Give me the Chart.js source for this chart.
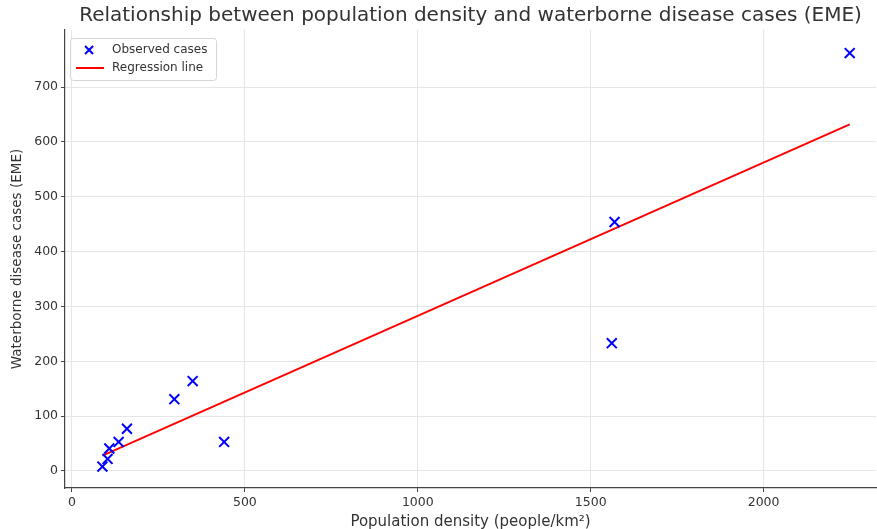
<!DOCTYPE html>
<html>
<head>
<meta charset="utf-8">
<script src="https://cdn.jsdelivr.net/npm/chart.js@4.4.1/dist/chart.umd.min.js"></script>
<style>
  html, body { margin: 0; padding: 0; background: #fff; overflow: hidden; }
  #wrap { width: 877px; height: 529px; }
  canvas { display: block; }
</style>
</head>
<body>
<div id="wrap"><canvas id="chart" width="877" height="529"></canvas></div>
<script>
// observed points
const densityValues = [88, 103, 108, 135, 159, 296, 349, 440, 1561, 1569, 2249];
const caseValues = [8, 22, 41, 53, 77, 131, 164, 53, 233, 454, 762];

// regression line end points
const lineX = [88, 2249];
const lineY = [28, 632];

const xTickValues = [0, 500, 1000, 1500, 2000];
const yTickValues = [0, 100, 200, 300, 400, 500, 600, 700];

const font = "'DejaVu Sans', sans-serif";
const textColor = '#333';

const observed = densityValues.map((x, i) => ({ x: x, y: caseValues[i] }));
const regression = lineX.map((x, i) => ({ x: x, y: lineY[i] }));

// legend drawn inside the plot, top-left
const innerLegend = {
    id: 'innerLegend',
    afterDraw(chart) {
        const ctx = chart.ctx;
        const area = chart.chartArea;
        const x0 = area.left + 5;
        const y0 = area.top + 8;
        const w = 146, h = 42;
        ctx.save();
        ctx.fillStyle = 'rgba(255,255,255,0.85)';
        ctx.strokeStyle = '#d6d6d6';
        ctx.lineWidth = 1;
        ctx.beginPath();
        ctx.roundRect(x0 + 0.5, y0 + 0.5, w, h, 3);
        ctx.fill();
        ctx.stroke();

        // cross marker
        const mx = x0 + 19, my = y0 + 12;
        ctx.strokeStyle = '#0000ff';
        ctx.lineWidth = 2;
        ctx.beginPath();
        ctx.moveTo(mx - 4, my - 4); ctx.lineTo(mx + 4, my + 4);
        ctx.moveTo(mx + 4, my - 4); ctx.lineTo(mx - 4, my + 4);
        ctx.stroke();

        // line sample
        ctx.strokeStyle = '#ff0000';
        ctx.lineWidth = 2;
        ctx.beginPath();
        ctx.moveTo(x0 + 6, y0 + 30); ctx.lineTo(x0 + 34, y0 + 30);
        ctx.stroke();

        ctx.fillStyle = textColor;
        ctx.font = '12px ' + font;
        ctx.textBaseline = 'middle';
        ctx.fillText(chart.data.datasets[0].label, x0 + 42, my);
        ctx.fillText(chart.data.datasets[1].label, x0 + 42, y0 + 30);
        ctx.restore();
    }
};

new Chart(document.getElementById('chart'), {
    type: 'scatter',
    data: {
        datasets: [{
            label: 'Observed cases',
            data: observed,
            pointStyle: 'crossRot',
            pointRadius: 7,
            pointBorderWidth: 2,
            borderColor: '#0000ff',
            backgroundColor: '#0000ff',
            order: 1
        }, {
            label: 'Regression line',
            data: regression,
            showLine: true,
            pointRadius: 0,
            borderColor: '#ff0000',
            borderWidth: 2,
            order: 2
        }]
    },
    options: {
        responsive: false,
        animation: false,
        layout: { autoPadding: false, padding: { left: 7, right: 1, top: 0, bottom: -2 } },
        plugins: {
            legend: { display: false },
            tooltip: { enabled: false },
            title: {
                display: true,
                fullSize: false,
                text: 'Relationship between population density and waterborne disease cases (EME)',
                color: textColor,
                font: { family: font, size: 20, weight: 'normal' },
                padding: { top: 4, bottom: 2 }
            }
        },
        scales: {
            x: {
                type: 'linear',
                min: -20,
                max: 2325,
                afterBuildTicks: axis => { axis.ticks = xTickValues.map(v => ({ value: v })); },
                ticks: {
                    color: textColor, font: { family: font, size: 12.5 }, padding: 3, maxRotation: 0,
                    callback: v => String(v)
                },
                grid: { color: '#e6e6e6', tickColor: '#444', tickLength: 4 },
                border: { display: true, color: '#444', width: 1.2 },
                title: {
                    display: true,
                    text: 'Population density (people/km²)',
                    color: textColor,
                    font: { family: font, size: 15 },
                    padding: { top: 0, bottom: 0 }
                }
            },
            y: {
                type: 'linear',
                min: -31,
                max: 804,
                afterBuildTicks: axis => { axis.ticks = yTickValues.map(v => ({ value: v })); },
                ticks: {
                    color: textColor, font: { family: font, size: 12.5 }, padding: 3,
                    callback: v => String(v)
                },
                grid: { color: '#e6e6e6', tickColor: '#444', tickLength: 4 },
                border: { display: true, color: '#444', width: 1.2 },
                title: {
                    display: true,
                    text: 'Waterborne disease cases (EME)',
                    color: textColor,
                    font: { family: font, size: 13.5 },
                    padding: { top: 2, bottom: 6 }
                }
            }
        }
    },
    plugins: [innerLegend]
});
</script>
</body>
</html>
